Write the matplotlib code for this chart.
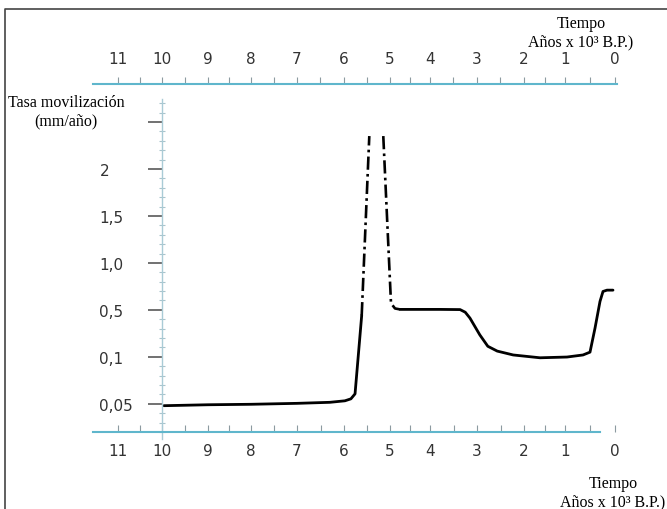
import numpy as np
import matplotlib.pyplot as plt

plt.rcParams['font.family'] = ['DejaVu Sans']

# tiempo (años x 10^3 B.P.) y tasa de movilización (mm/año)
tramo1_t = [9.96, 9.0, 8.0, 7.0, 6.3, 5.98, 5.85, 5.76, 5.615]
tramo1_v = [0.048, 0.049, 0.0495, 0.0505, 0.0516, 0.0532, 0.0553, 0.0606, 0.454]

subida_t = [5.615, 5.45]
subida_v = [0.454, 2.35]

bajada_t = [5.146, 4.975, 4.875, 4.75]
bajada_v = [2.35, 0.57, 0.515, 0.505]

tramo2_t = [4.75, 3.79, 3.36, 3.25, 3.15, 2.94, 2.77, 2.57, 2.23, 1.61, 0.96,
            0.64, 0.5, 0.4, 0.3, 0.24, 0.16, 0.04]
tramo2_v = [0.505, 0.505, 0.503, 0.48, 0.43, 0.287, 0.19, 0.149, 0.116, 0.099,
            0.0998, 0.116, 0.14, 0.344, 0.59, 0.696, 0.71, 0.71]

anos = list(range(12))
anos_lbl = [str(a) for a in anos]
tasa_ticks = [0.05, 0.1, 0.5, 1.0, 1.5, 2.0, 2.5]
tasa_lbl = ['0,05', '0,1', '0,5', '1,0', '1,5', '2', '']

# escala x desigual: posicion (px) de cada año en el eje original
anos_px = [615, 565, 524, 477, 430, 390, 344, 297, 251, 208, 162, 118]
xa = np.array([-1] + anos + [12], float)
xp = np.array([665] + anos_px + [75], float)

def fwd_x(t):
    return np.interp(t, xa, xp)

def inv_x(p):
    return np.interp(p, xp[::-1], xa[::-1])

# escala y: las marcas van equiespaciadas
yv = np.array([0.0, 0.05, 0.1, 0.5, 1.0, 1.5, 2.0, 3.0])
yi = np.array([-1, 0, 1, 2, 3, 4, 5, 7], float)

def fwd_y(v):
    return np.interp(v, yv, yi)

def inv_y(i):
    return np.interp(i, yi, yv)

W, H = 667, 510
fig = plt.figure(figsize=(W / 100, H / 100), dpi=100)
ax = fig.add_axes([93 / W, (H - 433) / H, (617 - 93) / W, (433 - 85) / H])
ax.set_xscale('function', functions=(fwd_x, inv_x))
ax.set_yscale('function', functions=(fwd_y, inv_y))
ax.set_xlim(inv_x(617), inv_x(93))
ax.set_ylim(inv_y((405 - 433) / 47), inv_y((405 - 85) / 47))

azul = '#5fb6cc'
gris = '#8c9aa0'

ax.plot(tramo1_t, tramo1_v, color='black', lw=2.0, solid_capstyle='round')
ax.plot(subida_t, subida_v, color='black', lw=1.9, dashes=(5, 1.6, 1, 1.6))
ax.plot(bajada_t, bajada_v, color='black', lw=1.9, dashes=(5, 1.6, 1, 1.6))
ax.plot(tramo2_t, tramo2_v, color='black', lw=2.0, solid_capstyle='round')

for s in ['top', 'right']:
    ax.spines[s].set_visible(False)
ax.spines['bottom'].set_color(azul)
ax.spines['bottom'].set_linewidth(1.5)
ax.spines['bottom'].set_bounds(inv_x(600), inv_x(93))
ax.spines['left'].set_position(('data', 10))
ax.spines['left'].set_color('#a9cbd6')
ax.spines['left'].set_linewidth(1.0)
ax.spines['left'].set_bounds(inv_y((405 - 440) / 47), inv_y((405 - 100) / 47))

# eje x inferior
ax.set_xticks(anos, anos_lbl)
ax.set_xticks([a + 0.5 for a in anos[:-1]], minor=True)
ax.tick_params(axis='x', which='both', direction='in', length=5, width=0.8,
               color=gris, pad=8, labelsize=11, labelcolor='#333333')

# eje y
ax.set_yticks(tasa_ticks, tasa_lbl)
minor_i = [i / 5 for i in range(-3, 33) if i % 5 != 0]
ax.set_yticks(inv_y(np.array(minor_i)), minor=True)
ax.tick_params(axis='y', which='major', direction='out', length=10, width=1.3,
               color='#666666', pad=35, labelsize=11, labelcolor='#333333')
ax.tick_params(axis='y', which='minor', direction='inout', length=4, width=0.8,
               color='#a9c4cc')
for lab in ax.get_yticklabels():
    lab.set_horizontalalignment('left')

# eje x superior
ax2 = ax.twiny()
ax2.set_xscale('function', functions=(fwd_x, inv_x))
ax2.set_xlim(ax.get_xlim())
for s in ['left', 'right', 'bottom']:
    ax2.spines[s].set_visible(False)
ax2.spines['top'].set_color(azul)
ax2.spines['top'].set_linewidth(1.5)
ax2.set_xticks(anos, anos_lbl)
ax2.set_xticks([a + 0.5 for a in anos[:-1]], minor=True)
ax2.tick_params(axis='x', which='both', direction='out', length=5, width=0.8,
                color=gris, pad=8, labelsize=11, labelcolor='#333333')

serif = ['Liberation Serif', 'DejaVu Serif']
fig.text(66 / W, 1 - 112 / H, 'Tasa movilización\n(mm/año)', family=serif,
         fontsize=11.5, ha='center', va='center', linespacing=1.2)
fig.text(581 / W, 1 - 33 / H, 'Tiempo\nAños x 10³ B.P.)', family=serif,
         fontsize=11.5, ha='center', va='center', linespacing=1.2)
fig.text(613 / W, 1 - 493 / H, 'Tiempo\nAños x 10³ B.P.)', family=serif,
         fontsize=11.5, ha='center', va='center', linespacing=1.2)

# marco
fig.add_artist(plt.Line2D([5 / W, 5 / W, 1.0], [0.0, 1 - 10 / H, 1 - 10 / H],
                          transform=fig.transFigure, color='#444444', lw=1.2))

fig.savefig('out.png', dpi=100)
